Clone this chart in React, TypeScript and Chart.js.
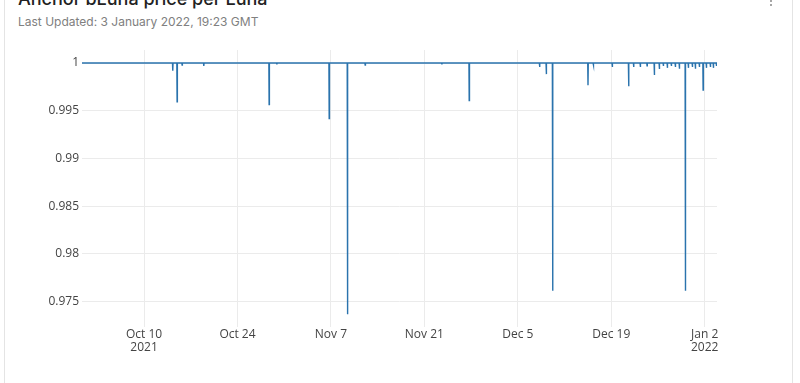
import React, { useEffect, useRef } from "react";
import { Chart, registerables } from "chart.js";

Chart.register(...registerables);

// x values are days since 1 Oct 2021 00:00 GMT
const startDay = -0.3;
const endDay = 94.85;
const baseValue = 1;

const spikeDays = [
  13.3, 13.95, 14.7, 17.95, 27.74, 28.9, 36.74, 39.48, 42.13, 53.63, 57.72,
  68.27, 69.27, 70.22, 75.52, 76.32, 79.16, 81.61, 82.36, 83.36, 84.37, 85.46,
  86.21, 86.81, 87.41, 88.01, 88.61, 89.21, 90.11, 90.56, 91.16, 91.61, 92.21,
  92.77, 93.26, 93.86, 94.31, 94.76,
];
const spikeValues = [
  0.9992, 0.99593, 0.9998, 0.9997, 0.99565, 0.99985, 0.99418, 0.97365, 0.9998,
  0.99985, 0.99606, 0.9996, 0.99884, 0.97611, 0.99768, 0.9998, 0.9996, 0.99758,
  0.9996, 0.9996, 0.9997, 0.99874, 0.99937, 0.9997, 0.9995, 0.9997, 0.9996,
  0.9994, 0.97611, 0.9995, 0.9996, 0.9994, 0.9996, 0.99716, 0.9995, 0.9996,
  0.9995, 0.9997,
];

const xTickDays = [9, 23, 37, 51, 65, 79, 93];
const xTickLabels: (string | string[])[] = [
  ["Oct 10", "2021"],
  "Oct 24",
  "Nov 7",
  "Nov 21",
  "Dec 5",
  "Dec 19",
  ["Jan 2", "2022"],
];
const yTickValues = [0.975, 0.98, 0.985, 0.99, 0.995, 1];

export default function App() {
  const canvasRef = useRef<HTMLCanvasElement | null>(null);

  useEffect(() => {
    document.body.style.margin = "0";
    const canvas = canvasRef.current;
    if (!canvas) return;
    const points: { x: number; y: number }[] = [{ x: startDay, y: baseValue }];
    const eps = 0.04;
    spikeDays.forEach((d, i) => {
      points.push({ x: d - eps, y: baseValue });
      points.push({ x: d, y: spikeValues[i] });
      points.push({ x: d + eps, y: baseValue });
    });
    points.push({ x: endDay, y: baseValue });

    const chart = new Chart(canvas, {
      type: "line",
      data: {
        datasets: [
          {
            data: points,
            borderColor: "#2a73ad",
            borderWidth: 1.4,
            pointRadius: 0,
            fill: false,
            tension: 0,
          },
        ],
      },
      options: {
        animation: false,
        responsive: false,
        parsing: false,
        layout: { padding: { left: 0, top: 50, right: 83, bottom: 0 } },
        plugins: { legend: { display: false }, tooltip: { enabled: false } },
        scales: {
          x: {
            type: "linear",
            min: startDay,
            max: endDay,
            border: { display: false },
            grid: { color: "#ebebeb", drawTicks: false, lineWidth: 1 },
            afterBuildTicks: (scale: any) => {
              scale.ticks = xTickDays.map((v) => ({ value: v }));
            },
            afterFit: (scale: any) => {
              scale.height = 56;
            },
            ticks: {
              autoSkip: false,
              maxRotation: 0,
              padding: 1.5,
              color: "#444",
              font: { family: "'Open Sans', Verdana, Arial, sans-serif", size: 12, lineHeight: 1.06 },
              callback: (value: any) => {
                const i = xTickDays.indexOf(Number(value));
                return i >= 0 ? xTickLabels[i] : "";
              },
            },
          },
          y: {
            type: "linear",
            min: 0.97232,
            max: 1.00137,
            border: { display: false },
            grid: { color: "#ebebeb", drawTicks: false, lineWidth: 1 },
            afterBuildTicks: (scale: any) => {
              scale.ticks = yTickValues.map((v) => ({ value: v }));
            },
            afterFit: (scale: any) => {
              scale.width = 82;
            },
            ticks: {
              padding: 3,
              color: "#444",
              font: { family: "'Open Sans', Verdana, Arial, sans-serif", size: 12 },
              callback: (value: any) => String(Number(Number(value).toFixed(3))),
            },
          },
        },
      },
    });
    return () => chart.destroy();
  }, []);

  return (
    <div
      style={{
        position: "relative",
        width: 800,
        height: 383,
        overflow: "hidden",
        background: "#fff",
        fontFamily: "Inter, 'Noto Sans', sans-serif",
      }}
    >
      <div
        style={{
          position: "absolute",
          left: 4,
          top: -20,
          width: 789,
          height: 500,
          border: "1px solid #e4e4e4",
          borderRadius: 4,
          boxSizing: "border-box",
        }}
      />
      <div
        style={{
          position: "absolute",
          left: 18,
          top: -12,
          fontSize: 18,
          lineHeight: "22px",
          fontWeight: 500,
          color: "#222",
          whiteSpace: "nowrap",
        }}
      >
        Anchor bLuna price per Luna
      </div>
      <div
        style={{
          position: "absolute",
          left: 18,
          top: 14,
          fontSize: 12,
          lineHeight: "15px",
          color: "#808080",
          whiteSpace: "nowrap",
        }}
      >
        Last Updated: 3 January 2022, 19:23 GMT
      </div>
      <div style={{ position: "absolute", left: 770, top: 0, width: 2, height: 2, borderRadius: 1, background: "#888" }} />
      <div style={{ position: "absolute", left: 770, top: 4, width: 2, height: 2, borderRadius: 1, background: "#888" }} />
      <canvas
        ref={canvasRef}
        width={800}
        height={383}
        style={{ position: "absolute", left: 0, top: 0, width: 800, height: 383 }}
      />
    </div>
  );
}
